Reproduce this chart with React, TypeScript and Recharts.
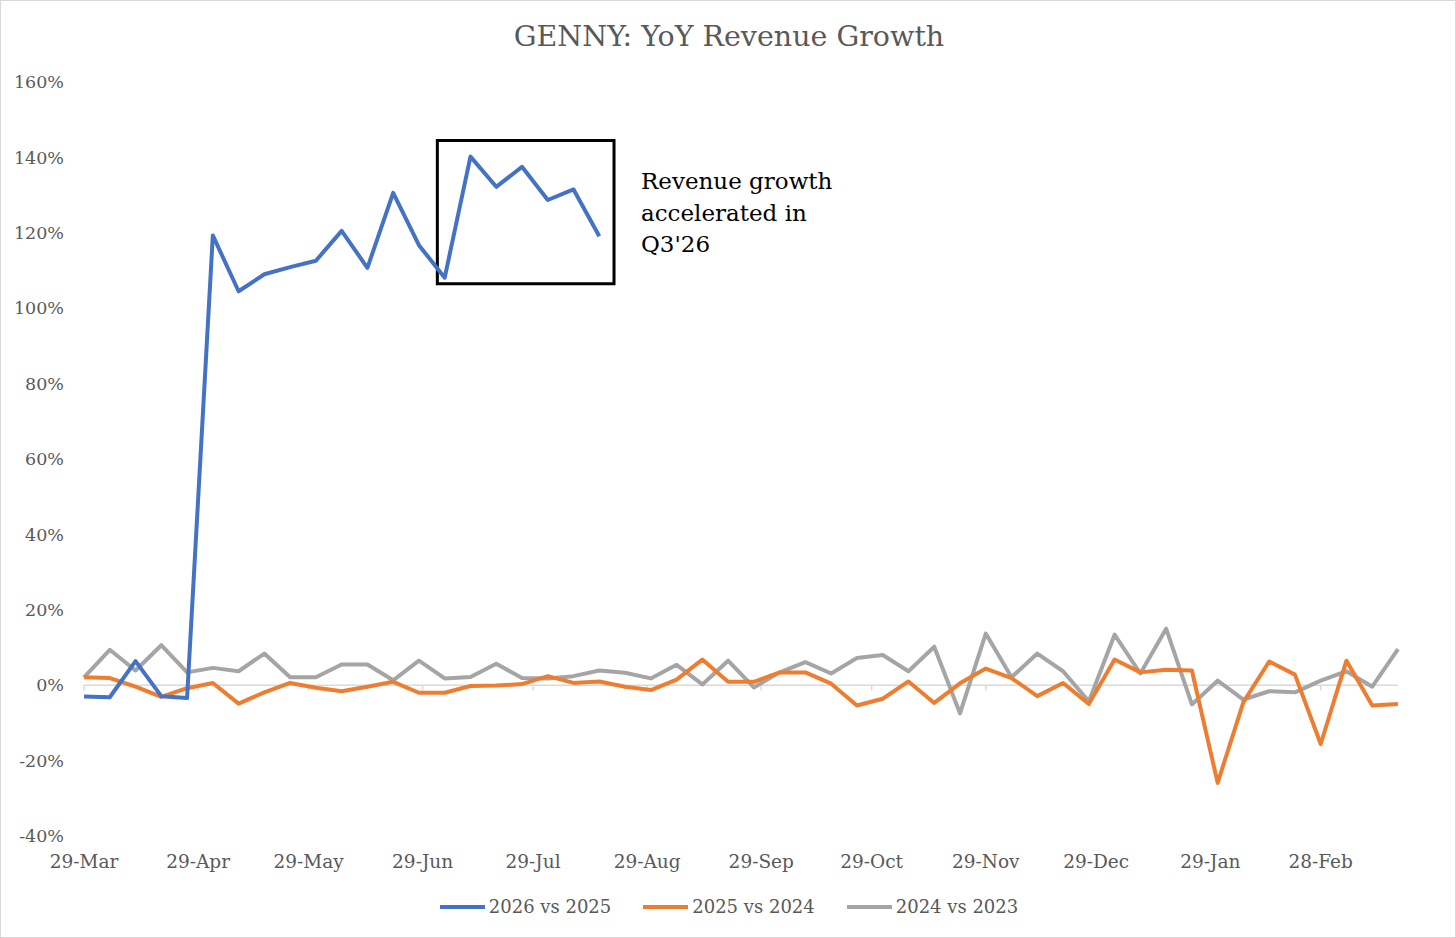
import React from 'react';
import { LineChart, Line, XAxis, YAxis, ReferenceLine, ReferenceArea } from 'recharts';

const weekDates = [
  '2025-03-29','2025-04-05','2025-04-12','2025-04-19','2025-04-26','2025-05-03','2025-05-10','2025-05-17',
  '2025-05-24','2025-05-31','2025-06-07','2025-06-14','2025-06-21','2025-06-28','2025-07-05','2025-07-12',
  '2025-07-19','2025-07-26','2025-08-02','2025-08-09','2025-08-16','2025-08-23','2025-08-30','2025-09-06',
  '2025-09-13','2025-09-20','2025-09-27','2025-10-04','2025-10-11','2025-10-18','2025-10-25','2025-11-01',
  '2025-11-08','2025-11-15','2025-11-22','2025-11-29','2025-12-06','2025-12-13','2025-12-20','2025-12-27',
  '2026-01-03','2026-01-10','2026-01-17','2026-01-24','2026-01-31','2026-02-07','2026-02-14','2026-02-21',
  '2026-02-28','2026-03-07','2026-03-14','2026-03-21',
];

const growth2026 = [
  -3.0, -3.2, 6.4, -2.9, -3.4, 119.3, 104.5, 109.0, 110.9, 112.6, 120.5, 110.7, 130.6, 116.7, 108.1, 140.2,
  132.2, 137.5, 128.7, 131.5, 119.1,
];

const growth2025 = [
  2.1, 1.9, -0.4, -3.1, -0.8, 0.6, -4.9, -1.9, 0.6, -0.7, -1.6, -0.4, 0.9, -2.0, -2.0, -0.2,
  -0.1, 0.3, 2.4, 0.6, 1.0, -0.4, -1.3, 1.5, 6.8, 0.9, 0.9, 3.4, 3.4, 0.4, -5.4, -3.6,
  1.0, -4.7, 0.5, 4.4, 1.9, -2.9, 0.6, -5.0, 6.8, 3.4, 4.1, 3.9, -25.9, -4.5, 6.3, 2.8,
  -15.6, 6.5, -5.4, -5.0,
];

const growth2024 = [
  2.1, 9.4, 3.9, 10.6, 3.4, 4.6, 3.7, 8.4, 2.1, 2.1, 5.5, 5.5, 1.3, 6.5, 1.8, 2.2,
  5.7, 1.9, 1.8, 2.4, 3.9, 3.3, 1.8, 5.4, 0.2, 6.5, -0.6, 3.4, 6.1, 3.1, 7.2, 8.0,
  3.7, 10.2, -7.5, 13.7, 2.1, 8.4, 3.7, -4.3, 13.4, 3.1, 15.0, -5.1, 1.2, -3.8, -1.6, -1.9,
  1.2, 3.7, -0.4, 9.6,
];

const tickDates = [
  '2025-03-29','2025-04-29','2025-05-29','2025-06-29','2025-07-29','2025-08-29',
  '2025-09-29','2025-10-29','2025-11-29','2025-12-29','2026-01-29','2026-02-28',
];
const tickLabels = ['29-Mar','29-Apr','29-May','29-Jun','29-Jul','29-Aug','29-Sep','29-Oct','29-Nov','29-Dec','29-Jan','28-Feb'];

const yTicks = [-40, -20, 0, 20, 40, 60, 80, 100, 120, 140, 160];

const seriesNames = ['2026 vs 2025', '2025 vs 2024', '2024 vs 2023'];
const seriesColors = ['#4472C4', '#ED7D31', '#A5A5A5'];

// annotation box (data coordinates: days since start, percent)
const boxDays = [96, 144];
const boxPct = [106.5, 144.5];
const annotationLines = ['Revenue growth', 'accelerated in', "Q3'26"];

const DAY = 86400000;
const start = Date.parse(weekDates[0]);
const toDay = (d: string) => Math.round((Date.parse(d) - start) / DAY);

const data = weekDates.map((d, i) => ({
  day: toDay(d),
  a: i < growth2026.length ? growth2026[i] : null,
  b: growth2025[i],
  c: growth2024[i],
}));

const tickDays = tickDates.map(toDay);
const lastDay = toDay(weekDates[weekDates.length - 1]);

const FONT = '"DejaVu Serif", serif';
const TXT = '#595959';

export default function App() {
  return (
    <div
      style={{
        position: 'absolute',
        left: 0,
        top: 0,
        width: 1456,
        height: 938,
        boxSizing: 'border-box',
        border: '1px solid #d9d9d9',
        background: '#fff',
        fontFamily: FONT,
      }}
    >
      <div
        style={{
          position: 'absolute',
          top: 19,
          left: 0,
          width: 1456,
          textAlign: 'center',
          fontSize: 28.5,
          color: TXT,
          lineHeight: '34px',
        }}
      >
        GENNY: YoY Revenue Growth
      </div>
      <div style={{ position: 'absolute', left: -1, top: -1 }}>
        <LineChart
          width={1456}
          height={938}
          data={data}
          margin={{ top: 82, right: 58, bottom: 62, left: 0 }}
        >
          <XAxis
            dataKey="day"
            type="number"
            domain={[0, lastDay]}
            ticks={tickDays}
            tickFormatter={(v: number) => tickLabels[tickDays.indexOf(v)] ?? ''}
            axisLine={false}
            tickLine={false}
            tickSize={0}
            tickMargin={19}
            height={40}
            interval={0}
            tick={{ fill: TXT, fontSize: 18.5, fontFamily: FONT }}
          />
          <YAxis
            type="number"
            domain={[-40, 160]}
            ticks={yTicks}
            tickFormatter={(v: number) => `${v}%`}
            axisLine={false}
            tickLine={false}
            tickSize={0}
            tickMargin={20}
            width={84}
            interval={0}
            tick={{ fill: TXT, fontSize: 17.5, fontFamily: FONT }}
          />
          <ReferenceLine y={0} stroke="#d9d9d9" strokeWidth={1.5} />
          {tickDays.map((d) => (
            <ReferenceLine
              key={d}
              segment={[
                { x: d, y: 0 },
                { x: d, y: -1.4 },
              ]}
              stroke="#d9d9d9"
              strokeWidth={1.5}
            />
          ))}
          <Line dataKey="c" name={seriesNames[2]} stroke={seriesColors[2]} strokeWidth={4} dot={false} isAnimationActive={false} strokeLinejoin="round" />
          <Line dataKey="b" name={seriesNames[1]} stroke={seriesColors[1]} strokeWidth={4} dot={false} isAnimationActive={false} strokeLinejoin="round" />
          <Line dataKey="a" name={seriesNames[0]} stroke={seriesColors[0]} strokeWidth={4} dot={false} isAnimationActive={false} strokeLinejoin="round" connectNulls={false} />
          <ReferenceArea
            x1={boxDays[0]}
            x2={boxDays[1]}
            y1={boxPct[0]}
            y2={boxPct[1]}
            fill="none"
            fillOpacity={0}
            stroke="#000"
            strokeWidth={3}
            ifOverflow="visible"
          />
        </LineChart>
      </div>
      <div
        style={{
          position: 'absolute',
          left: 640,
          top: 165,
          fontSize: 23,
          lineHeight: '31.5px',
          color: '#000',
        }}
      >
        {annotationLines.map((l) => (
          <div key={l}>{l}</div>
        ))}
      </div>
      <div
        style={{
          position: 'absolute',
          top: 894,
          left: 0,
          width: 1456,
          display: 'flex',
          justifyContent: 'center',
          gap: 32,
          fontSize: 18,
          color: TXT,
          lineHeight: '24px',
        }}
      >
        {seriesNames.map((n, i) => (
          <div key={n} style={{ display: 'flex', alignItems: 'center' }}>
            <div style={{ width: 45, height: 4, background: seriesColors[i], marginRight: 4 }} />
            <span>{n}</span>
          </div>
        ))}
      </div>
    </div>
  );
}
